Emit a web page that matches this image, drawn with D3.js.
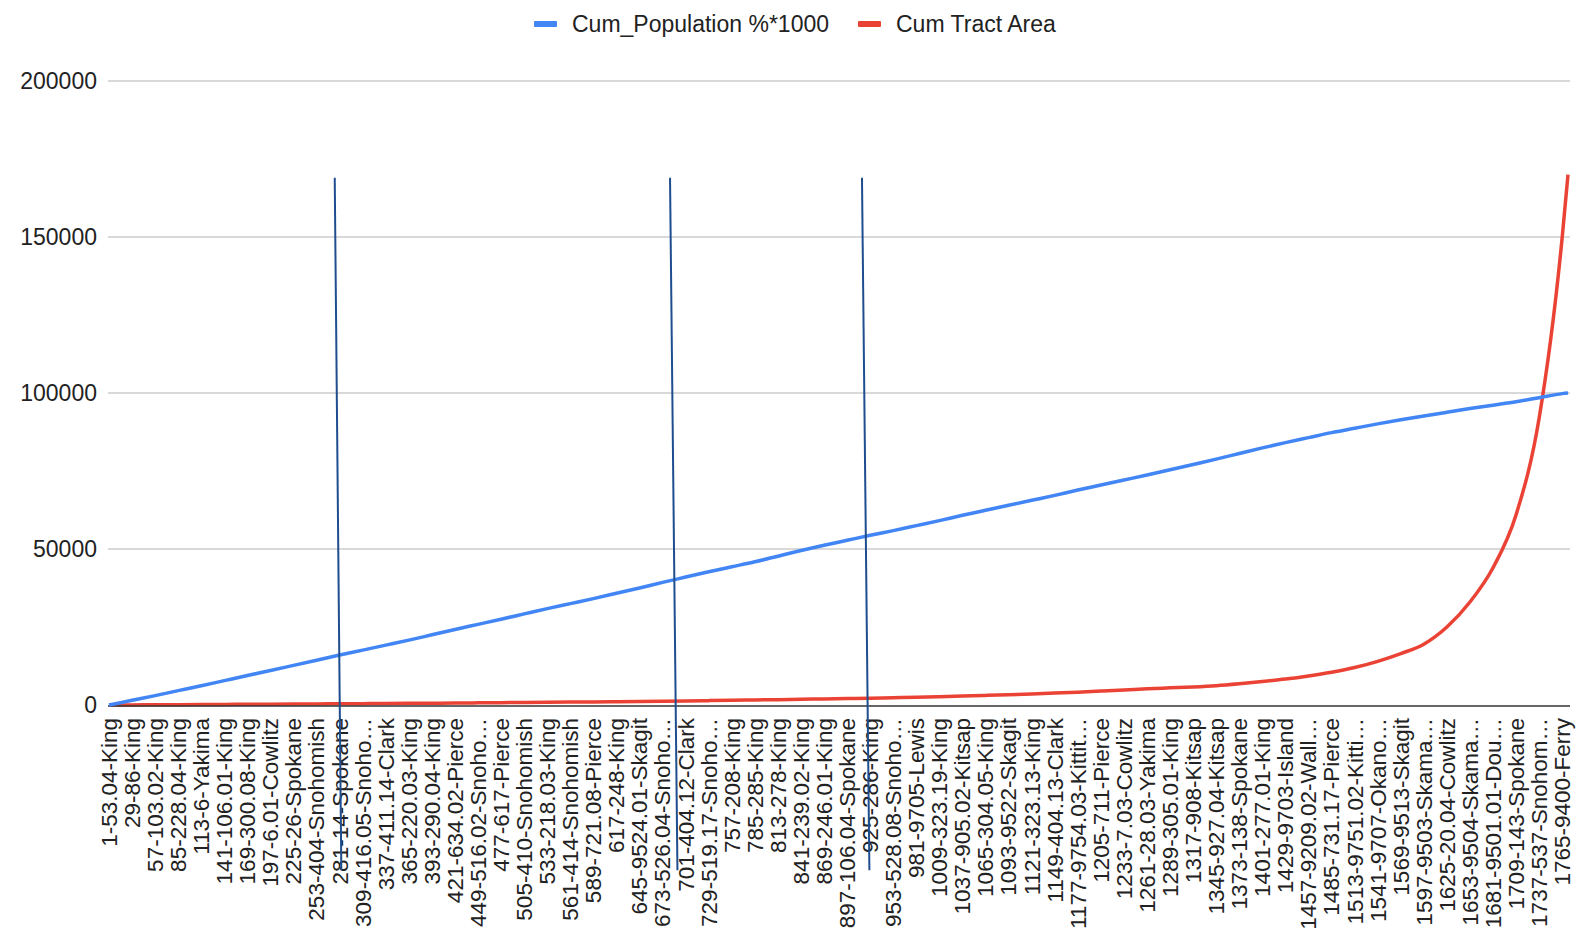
<!DOCTYPE html>
<html>
<head>
<meta charset="utf-8">
<script src="https://cdn.jsdelivr.net/npm/d3@7"></script>
<style>
  body { margin: 0; background: #fff; }
  svg { font-family: "Liberation Sans", Arial, sans-serif; }
  .tick-label { font-size: 23px; fill: #222; }
  .cat-label { font-size: 22.5px; fill: #222; }
  .legend-text { font-size: 23px; fill: #222; }
</style>
</head>
<body>
<svg id="chart" width="1588" height="937"></svg>
<script>
// row index of each sampled category (every 28th tract, plus the last row)
var sampleIdx = [1, 29, 57, 85, 113, 141, 169, 197, 225, 253, 281, 309, 337, 365, 393, 421,
    449, 477, 505, 533, 561, 589, 617, 645, 673, 701, 729, 757, 785, 813, 841, 869,
    897, 925, 953, 981, 1009, 1037, 1065, 1093, 1121, 1149, 1177, 1205, 1233, 1261, 1289, 1317,
    1345, 1373, 1401, 1429, 1457, 1485, 1513, 1541, 1569, 1597, 1625, 1653, 1681, 1709, 1737, 1765, 1772];

var cumPopulation = [0, 1500, 3000, 4600, 6150, 7800, 9450, 11050, 12700, 14350, 16000, 17600, 19200, 20800, 22500, 24200,
    25850, 27500, 29200, 30900, 32500, 34100, 35800, 37500, 39300, 41000, 42700, 44300, 45900, 47700, 49500, 51200,
    52800, 54400, 55900, 57500, 59100, 60800, 62400, 64000, 65600, 67200, 68900, 70500, 72100, 73700, 75400, 77100,
    78800, 80600, 82400, 84100, 85700, 87300, 88700, 90100, 91400, 92600, 93800, 95000, 96100, 97200, 98500, 99800, 100000];

var cumArea = [0, 40, 80, 120, 160, 200, 240, 280, 320, 360, 400, 440, 480, 530, 580, 630,
    690, 750, 810, 870, 930, 990, 1060, 1130, 1210, 1300, 1400, 1500, 1610, 1720, 1840, 1960,
    2080, 2200, 2350, 2500, 2680, 2870, 3080, 3300, 3550, 3820, 4120, 4450, 4800, 5200, 5500, 5800,
    6200, 6800, 7500, 8300, 9300, 10500, 12000, 14000, 16500, 19500, 25000, 33000, 44000, 61000, 92000, 150000, 170000];

var catLabels = ['1-53.04-King', '29-86-King', '57-103.02-King', '85-228.04-King', '113-6-Yakima',
    '141-106.01-King', '169-300.08-King', '197-6.01-Cowlitz', '225-26-Spokane', '253-404-Snohomish',
    '281-14-Spokane', '309-416.05-Snoho…', '337-411.14-Clark', '365-220.03-King', '393-290.04-King',
    '421-634.02-Pierce', '449-516.02-Snoho…', '477-617-Pierce', '505-410-Snohomish', '533-218.03-King',
    '561-414-Snohomish', '589-721.08-Pierce', '617-248-King', '645-9524.01-Skagit', '673-526.04-Snoho…',
    '701-404.12-Clark', '729-519.17-Snoho…', '757-208-King', '785-285-King', '813-278-King',
    '841-239.02-King', '869-246.01-King', '897-106.04-Spokane', '925-286-King', '953-528.08-Snoho…',
    '981-9705-Lewis', '1009-323.19-King', '1037-905.02-Kitsap', '1065-304.05-King', '1093-9522-Skagit',
    '1121-323.13-King', '1149-404.13-Clark', '1177-9754.03-Kittit…', '1205-711-Pierce', '1233-7.03-Cowlitz',
    '1261-28.03-Yakima', '1289-305.01-King', '1317-908-Kitsap', '1345-927.04-Kitsap', '1373-138-Spokane',
    '1401-277.01-King', '1429-9703-Island', '1457-9209.02-Wall…', '1485-731.17-Pierce', '1513-9751.02-Kitti…',
    '1541-9707-Okano…', '1569-9513-Skagit', '1597-9503-Skama…', '1625-20.04-Cowlitz', '1653-9504-Skama…',
    '1681-9501.01-Dou…', '1709-143-Spokane', '1737-537-Snohom…', '1765-9400-Ferry'];
var labelIdx = sampleIdx.slice(0, catLabels.length);

var yTicks = [0, 50000, 100000, 150000, 200000];

// hand-drawn marker lines (row at top / bottom end)
var markerTopIdx = [275, 682, 915];
var markerBottomIdx = [283, 691, 924];
var markerTopValue = 169000;
var markerBottomValue = -53000;

var seriesNames = ['Cum_Population %*1000', 'Cum Tract Area'];
var colors = {blue: '#4285f4', red: '#ea4335', marker: '#1f4e8f', grid: '#cccccc', axis: '#333333'};

var svg = d3.select('#chart');

var x = d3.scaleLinear().domain([1, 1772]).range([109, 1568]);
var y = d3.scaleLinear().domain([0, 200000]).range([705, 81]);

// gridlines + y labels
svg.append('g').selectAll('line')
    .data(yTicks.filter(function(d) { return d > 0; }))
    .enter().append('line')
    .attr('x1', 108).attr('x2', 1570)
    .attr('y1', function(d) { return y(d); })
    .attr('y2', function(d) { return y(d); })
    .attr('stroke', colors.grid)
    .attr('stroke-width', 1.3);

svg.append('g').selectAll('text')
    .data(yTicks)
    .enter().append('text')
    .attr('class', 'tick-label')
    .attr('x', 97)
    .attr('y', function(d) { return y(d); })
    .attr('dy', '0.35em')
    .attr('text-anchor', 'end')
    .text(function(d) { return d; });

// category labels
svg.append('g').selectAll('text')
    .data(labelIdx)
    .enter().append('text')
    .attr('class', 'cat-label')
    .attr('text-anchor', 'end')
    .attr('dy', '0.35em')
    .attr('transform', function(d) { return 'translate(' + x(d) + ',718) rotate(-90)'; })
    .text(function(d, i) { return catLabels[i]; });

// lines
var line = d3.line()
    .x(function(d) { return x(d[0]); })
    .y(function(d) { return y(d[1]); })
    .curve(d3.curveMonotoneX);

var popData = sampleIdx.map(function(d, i) { return [d, cumPopulation[i]]; });
var areaData = sampleIdx.map(function(d, i) { return [d, cumArea[i]]; });

svg.append('path')
    .attr('d', line(areaData))
    .attr('fill', 'none')
    .attr('stroke', colors.red)
    .attr('stroke-width', 3.5)
    .attr('stroke-linejoin', 'round');

// zero axis
svg.append('line')
    .attr('x1', 108).attr('x2', 1570)
    .attr('y1', y(0) + 1).attr('y2', y(0) + 1)
    .attr('stroke', colors.axis)
    .attr('stroke-width', 1.5);

svg.append('path')
    .attr('d', line(popData))
    .attr('fill', 'none')
    .attr('stroke', colors.blue)
    .attr('stroke-width', 3.5)
    .attr('stroke-linejoin', 'round');

// marker lines
svg.append('g').selectAll('line')
    .data(markerTopIdx)
    .enter().append('line')
    .attr('x1', function(d) { return x(d); })
    .attr('y1', y(markerTopValue))
    .attr('x2', function(d, i) { return x(markerBottomIdx[i]); })
    .attr('y2', y(markerBottomValue))
    .attr('stroke', colors.marker)
    .attr('stroke-width', 2);

// legend
var legend = svg.append('g');
var legendX = [534, 858];
var legendColors = [colors.blue, colors.red];
legend.selectAll('rect')
    .data(seriesNames)
    .enter().append('rect')
    .attr('x', function(d, i) { return legendX[i]; })
    .attr('y', 21)
    .attr('width', 23)
    .attr('height', 6)
    .attr('rx', 1)
    .attr('fill', function(d, i) { return legendColors[i]; });
legend.selectAll('text')
    .data(seriesNames)
    .enter().append('text')
    .attr('class', 'legend-text')
    .attr('x', function(d, i) { return legendX[i] + 38; })
    .attr('y', 24)
    .attr('dy', '0.35em')
    .text(function(d) { return d; });
</script>
</body>
</html>
